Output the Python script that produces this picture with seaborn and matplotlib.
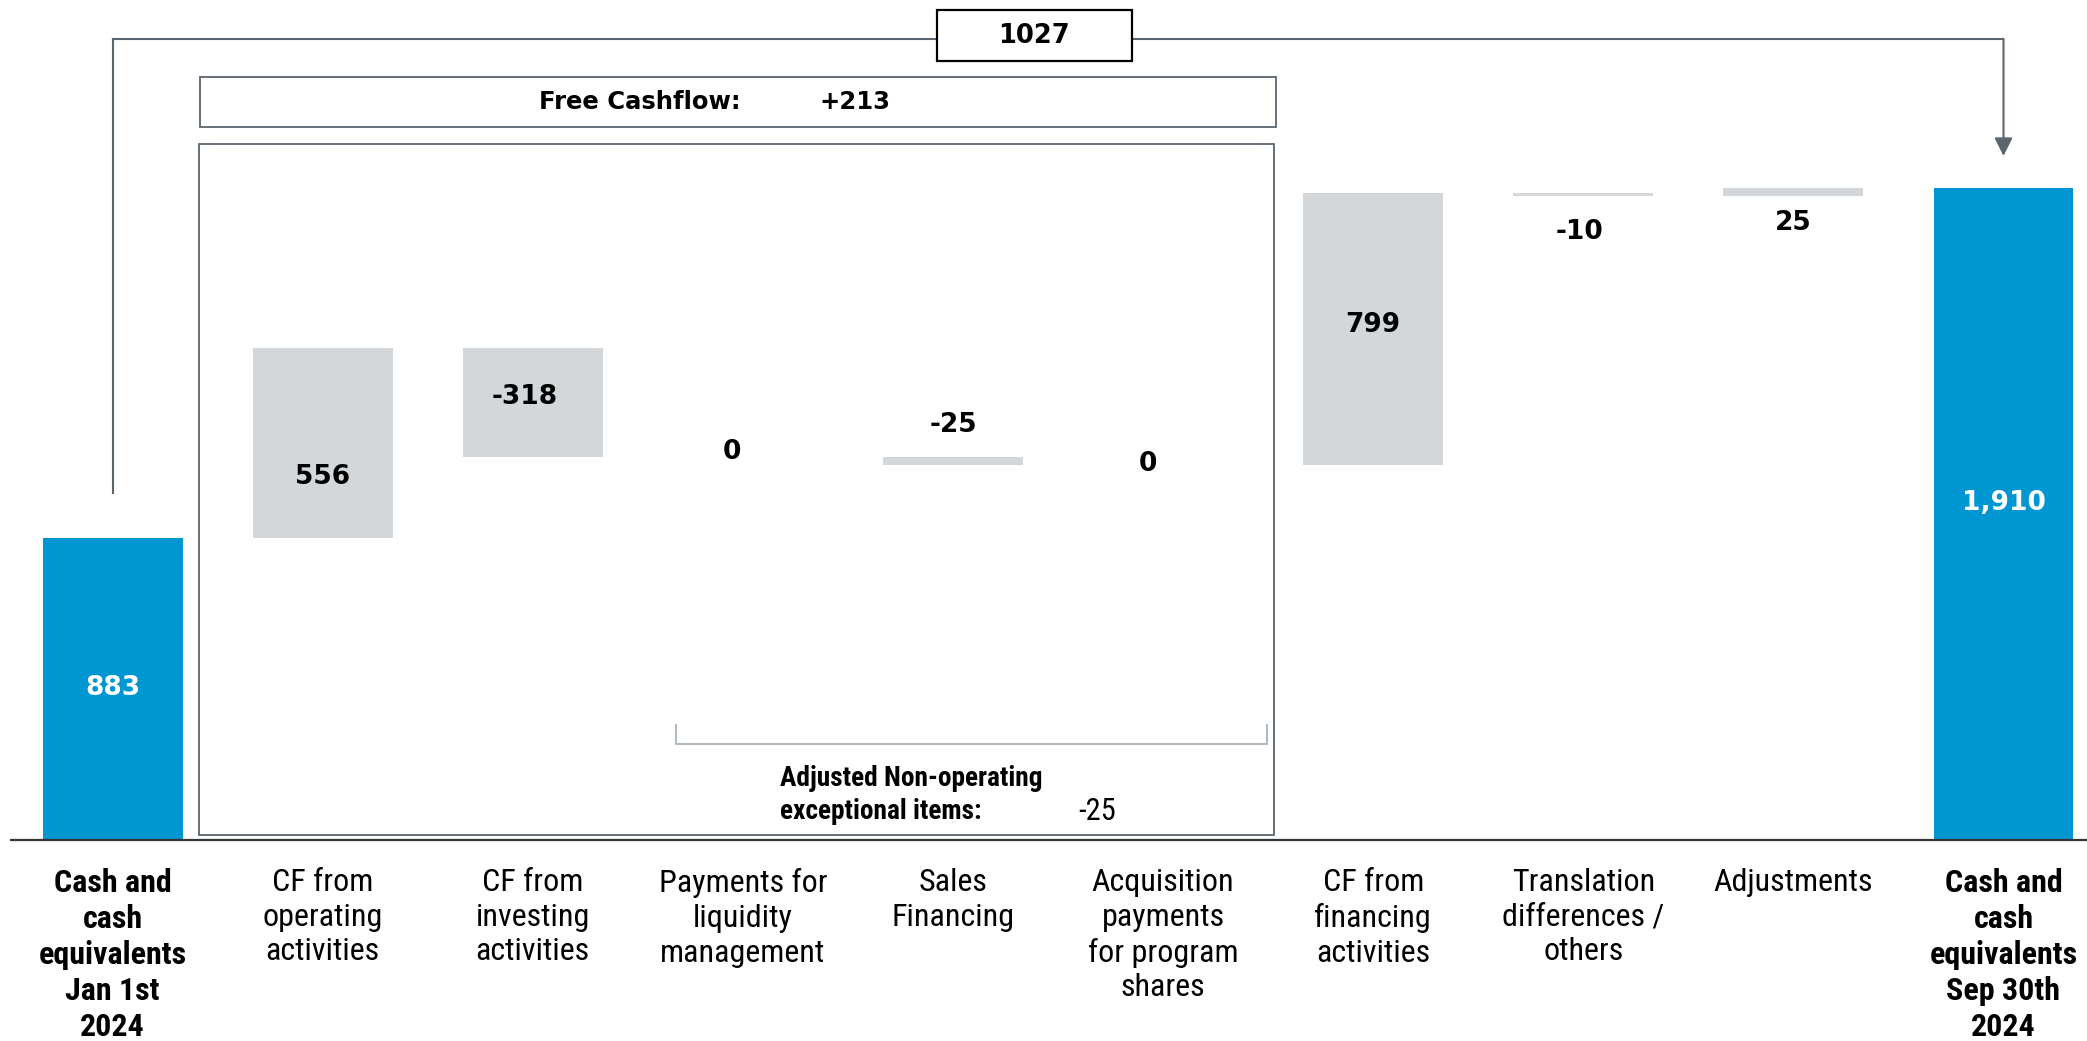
import numpy as np
import pandas as pd
import matplotlib
matplotlib.use("Agg")
import matplotlib.pyplot as plt
import matplotlib.transforms as mtransforms
from matplotlib import font_manager
from matplotlib.patches import Rectangle
import seaborn as sns

# ---------------- data ----------------
categories = [
    "Cash and\ncash\nequivalents\nJan 1st\n2024",
    "CF from\noperating\nactivities",
    "CF from\ninvesting\nactivities",
    "Payments for\nliquidity\nmanagement",
    "Sales\nFinancing",
    "Acquisition\npayments\nfor program\nshares",
    "CF from\nfinancing\nactivities",
    "Translation\ndifferences /\nothers",
    "Adjustments",
    "Cash and\ncash\nequivalents\nSep 30th\n2024",
]
kinds = ["total", "delta", "delta", "delta", "delta", "delta", "delta", "delta", "delta", "total"]
values = [883, 556, -318, 0, -25, 0, 799, -10, 25, 1910]
value_labels = ["883", "556", "-318", "0", "-25", "0", "799", "-10", "25", "1,910"]
bridge_label = "1027"
fcf_label = "Free Cashflow:"
fcf_value = "+213"
nonop_label = "Adjusted Non-operating\nexceptional items:"
nonop_value = "-25"

# ---------------- style ----------------
W, H = 2087, 1041
BLUE = "#0096D2"
GRAY = "#D4D7DA"
LINE = "#5B6570"
BRACKET = "#B3BAC0"
AXIS = "#333333"

avail = {f.name for f in font_manager.fontManager.ttflist}
def pick(*names):
    for n in names:
        if n in avail:
            return n
    return None
COND = pick("DejaVu Sans Condensed", "Liberation Sans Narrow", "Roboto Condensed", "Open Sans Condensed")
if COND is None:
    cond_kw = dict(family="DejaVu Sans", stretch="condensed")
else:
    cond_kw = dict(family=COND)

plt.rcParams["font.family"] = ["DejaVu Sans"]

# waterfall geometry from values
bottoms, heights = [], []
running = 0
for v, k in zip(values, kinds):
    if k == "total":
        bottoms.append(0)
        heights.append(v)
        running = v
    else:
        new = running + v
        bottoms.append(min(running, new))
        heights.append(abs(v))
        running = new
df = pd.DataFrame({"cat": categories, "kind": kinds, "bottom": bottoms, "height": heights})

fig = plt.figure(figsize=(W / 100, H / 100), dpi=100)
ax = fig.add_axes([0, 0, 1, 1])

BAR_W = 0.666
for kind, col in [("total", BLUE), ("delta", GRAY)]:
    sub = df[df["kind"] == kind]
    sns.barplot(data=sub, x="cat", y="height", order=categories, color=col,
                saturation=1, width=BAR_W, errorbar=None, ax=ax,
                bottom=sub["bottom"].to_numpy(), linewidth=0, zorder=2)

# axis mapping: bar centres at px 112.6 + 210.1*i, baseline at px 838.5, 0.3406 px/unit
X0, DX = 112.6, 210.1
BASE, SC = 838.5, 0.3406
ax.set_xlim(-X0 / DX, (W - X0) / DX)
ax.set_ylim(-(H - BASE) / SC, BASE / SC)
ax.axis("off")

def fx(px):
    return px / W
def fy(py):
    return 1 - py / H
blend = mtransforms.blended_transform_factory(ax.transData, ax.transAxes)

# baseline
ax.plot([fx(10), fx(W)], [fy(840), fy(840)], transform=ax.transAxes,
        color=AXIS, lw=1.6, zorder=3, solid_capstyle="butt")

# value labels
label_dy = [0, 34, -6, -5, -36, -1, -4, 37, 31, -10]   # px downward
label_dx = [0, 0, -8, -11, 0, -15, 0, -4, 0, 0]        # px right
for i, (lab, b, h, k) in enumerate(zip(value_labels, bottoms, heights, kinds)):
    ax.annotate(lab, xy=(i, b + h / 2), xytext=(label_dx[i], -label_dy[i]),
                textcoords="offset pixels", ha="center", va="center",
                fontsize=19, fontweight="bold",
                color="white" if k == "total" else "black", zorder=5)

# category labels
for i, (cat, k) in enumerate(zip(categories, kinds)):
    ax.text(i, fy(868), cat, transform=blend, ha="center", va="top",
            fontsize=23, fontweight="bold" if k == "total" else "normal",
            linespacing=1.25, color="black", **cond_kw)

# bridge 1027: line from first bar to last bar with arrow
ax.plot([0, 0], [fy(493), fy(39)], transform=blend, color=LINE, lw=1.5, zorder=3)
ax.plot([0, len(values) - 1], [fy(39), fy(39)], transform=blend, color=LINE, lw=1.5, zorder=3)
ax.annotate("", xy=(len(values) - 1, fy(156)), xytext=(len(values) - 1, fy(39)),
            xycoords=blend, textcoords=blend,
            arrowprops=dict(arrowstyle="-|>,head_length=1.1,head_width=0.55",
                            color=LINE, lw=1.5, shrinkA=0, shrinkB=0), zorder=3)
ax.add_patch(Rectangle((fx(936.5), fy(60.5)), fx(1132) - fx(936.5), fy(10.5) - fy(60.5),
                       transform=ax.transAxes, facecolor="white", edgecolor="black",
                       lw=1.6, zorder=4))
ax.text(fx(1034), fy(36), bridge_label, transform=ax.transAxes, ha="center", va="center",
        fontsize=18.5, fontweight="bold", zorder=5)

# Free cashflow box
ax.add_patch(Rectangle((fx(200), fy(127)), fx(1276) - fx(200), fy(77) - fy(127),
                       transform=ax.transAxes, facecolor="none", edgecolor=LINE,
                       lw=1.3, zorder=3))
ax.text(fx(741), fy(102), fcf_label, transform=ax.transAxes, ha="right", va="center",
        fontsize=17.5, fontweight="bold", zorder=5)
ax.text(fx(819), fy(102), fcf_value, transform=ax.transAxes, ha="left", va="center",
        fontsize=17.5, fontweight="bold", zorder=5)

# large box around the free cashflow components
ax.add_patch(Rectangle((fx(198.5), fy(835)), fx(1273.6) - fx(198.5), fy(143.6) - fy(835),
                       transform=ax.transAxes, facecolor="none", edgecolor=LINE,
                       lw=1.3, zorder=3))

# bracket for non-operating items
ax.plot([fx(675.6), fx(675.6), fx(1266.6), fx(1266.6)],
        [fy(725), fy(743.6), fy(743.6), fy(725)], transform=ax.transAxes,
        color=BRACKET, lw=1.5, zorder=3)
ax.text(fx(780), fy(795), nonop_label, transform=ax.transAxes, ha="left", va="center",
        fontsize=19.7, fontweight="bold", linespacing=1.3, zorder=5, **cond_kw)
ax.text(fx(1078), fy(812), nonop_value, transform=ax.transAxes, ha="left", va="center",
        fontsize=22, zorder=5, **cond_kw)

fig.savefig("out.png", dpi=100, facecolor="white")
